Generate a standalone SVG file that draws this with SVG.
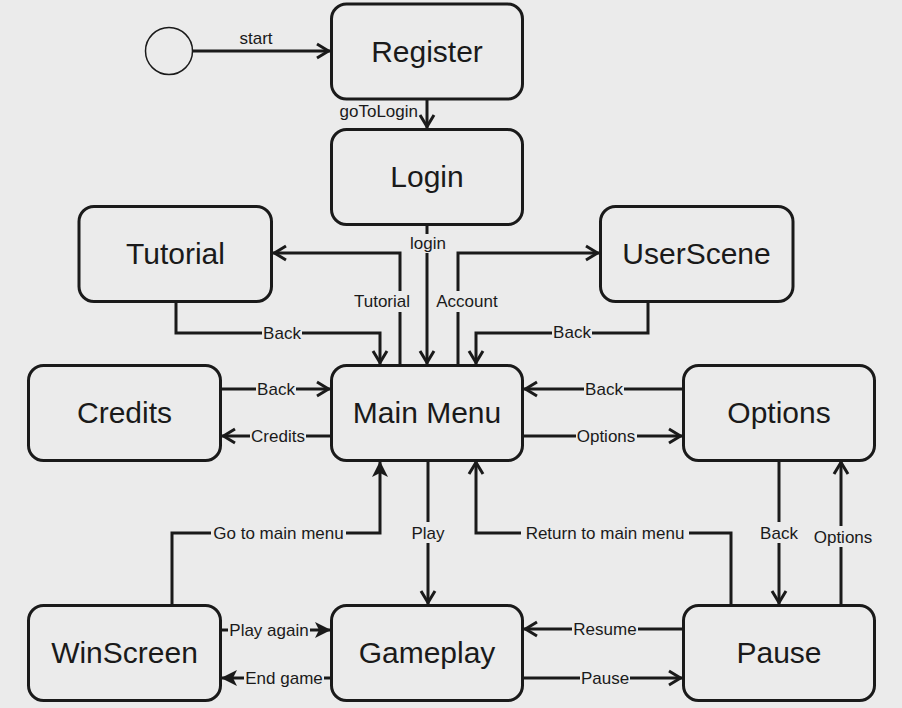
<svg xmlns="http://www.w3.org/2000/svg" width="902" height="708" viewBox="0 0 902 708">
<defs>
<style>
.node rect{fill:#ebebeb;stroke:#1a1a1a;stroke-width:3}
.node text{font-family:"Liberation Sans",Arial,sans-serif;font-size:30px;fill:#1a1a1a;text-anchor:middle}
.edges path{fill:none;stroke:#1a1a1a;stroke-width:3}
.lbl rect{fill:#ebebeb}
.lbl text{font-family:"Liberation Sans",Arial,sans-serif;font-size:17px;fill:#1a1a1a;text-anchor:middle}
.open{marker-end:url(#open)}
.block{marker-end:url(#block)}
</style>
<marker id="open" viewBox="-18 -10 20 20" refX="0" refY="0" markerWidth="20" markerHeight="20" markerUnits="userSpaceOnUse" orient="auto">
<path d="M-14,-7 L-2.5,0 L-14,7" fill="none" stroke="#1a1a1a" stroke-width="3"/>
</marker>
<marker id="block" viewBox="-18 -10 20 20" refX="0" refY="0" markerWidth="20" markerHeight="20" markerUnits="userSpaceOnUse" orient="auto">
<path d="M-16,-8 L0,0 L-16,8 L-12,0 Z" fill="#1a1a1a" stroke="none"/>
</marker>
</defs>
<rect x="0" y="0" width="902" height="708" fill="#ebebeb"/>

<g id="start">
<circle cx="169" cy="51" r="23.5" fill="#ebebeb" stroke="#1a1a1a" stroke-width="1.5"/>
</g>
<g id="register" class="node"><rect x="331.5" y="4" width="191" height="95" rx="15"/><text x="427" y="62">Register</text></g>
<g id="login" class="node"><rect x="331.5" y="129.5" width="191" height="95" rx="15"/><text x="427" y="187">Login</text></g>
<g id="tutorial" class="node"><rect x="79" y="206.5" width="192.5" height="95" rx="15"/><text x="175.5" y="264">Tutorial</text></g>
<g id="userscene" class="node"><rect x="600.5" y="206.5" width="192.5" height="95" rx="15"/><text x="696.5" y="264">UserScene</text></g>
<g id="credits" class="node"><rect x="28.5" y="365.5" width="192" height="95" rx="15"/><text x="124.5" y="423">Credits</text></g>
<g id="mainmenu" class="node"><rect x="331.5" y="365.5" width="191" height="95" rx="15"/><text x="427" y="423">Main Menu</text></g>
<g id="options" class="node"><rect x="683.5" y="365.5" width="191" height="95" rx="15"/><text x="779" y="423">Options</text></g>
<g id="winscreen" class="node"><rect x="28.5" y="605.5" width="192" height="95" rx="15"/><text x="124.5" y="663">WinScreen</text></g>
<g id="gameplay" class="node"><rect x="331.5" y="605.5" width="191" height="95" rx="15"/><text x="427" y="663">Gameplay</text></g>
<g id="pause" class="node"><rect x="683.5" y="605.5" width="191" height="95" rx="15"/><text x="779" y="663">Pause</text></g>

<g id="connectors" class="edges">
<path class="open" d="M193,51 H331"/>
<path class="open" d="M427,99 V129"/>
<path class="open" d="M427,224 V365"/>
<path class="open" d="M400,365 V253 H272"/>
<path class="open" d="M458,365 V253 H600"/>
<path class="open" d="M176,301 V333 H380 V365"/>
<path class="open" d="M648,301 V333 H476 V365"/>
<path class="open" d="M221,389 H331"/>
<path class="open" d="M331,436 H221"/>
<path class="open" d="M683,389 H523"/>
<path class="open" d="M523,436 H683"/>
<path class="open" d="M779,460 V605"/>
<path class="open" d="M841,605 V460"/>
<path class="block" d="M172,605 V533 H380 V461"/>
<path class="open" d="M428,460 V605"/>
<path class="open" d="M731,605 V533 H476 V460"/>
<path class="block" d="M221,630 H331"/>
<path class="block" d="M331,678 H221"/>
<path class="open" d="M683,629 H523"/>
<path class="open" d="M523,678 H683"/>
</g>

<g id="labels" class="lbl">
<text x="256" y="44">start</text>
<text x="418" y="117" style="text-anchor:end">goToLogin</text>
<g><rect x="409" y="234" width="38" height="19"/><text x="428" y="249">login</text></g>
<g><rect x="353" y="291" width="59" height="21"/><text x="382" y="307">Tutorial</text></g>
<g><rect x="436" y="291" width="63" height="21"/><text x="467" y="307">Account</text></g>
<g><rect x="262" y="324" width="40" height="18"/><text x="282" y="339">Back</text></g>
<g><rect x="552" y="323" width="40" height="18"/><text x="572" y="338">Back</text></g>
<g><rect x="256" y="380" width="40" height="18"/><text x="276" y="395">Back</text></g>
<g><rect x="250" y="427" width="56" height="18"/><text x="278" y="442">Credits</text></g>
<g><rect x="584" y="380" width="40" height="18"/><text x="604" y="395">Back</text></g>
<g><rect x="576" y="427" width="61" height="18"/><text x="606" y="442">Options</text></g>
<g><rect x="759" y="522" width="40" height="21"/><text x="779" y="539">Back</text></g>
<g><rect x="812" y="526" width="62" height="21"/><text x="843" y="543">Options</text></g>
<g><rect x="211" y="524" width="135" height="18"/><text x="278.5" y="539">Go to main menu</text></g>
<g><rect x="410" y="522" width="36" height="21"/><text x="428" y="539">Play</text></g>
<g><rect x="521" y="524" width="168" height="18"/><text x="605" y="539">Return to main menu</text></g>
<g><rect x="228" y="621" width="82" height="18"/><text x="269" y="636">Play again</text></g>
<g><rect x="244" y="669" width="80" height="18"/><text x="284" y="684">End game</text></g>
<g><rect x="572" y="620" width="66" height="18"/><text x="605" y="635">Resume</text></g>
<g><rect x="580" y="669" width="50" height="18"/><text x="605" y="684">Pause</text></g>
</g>
</svg>
